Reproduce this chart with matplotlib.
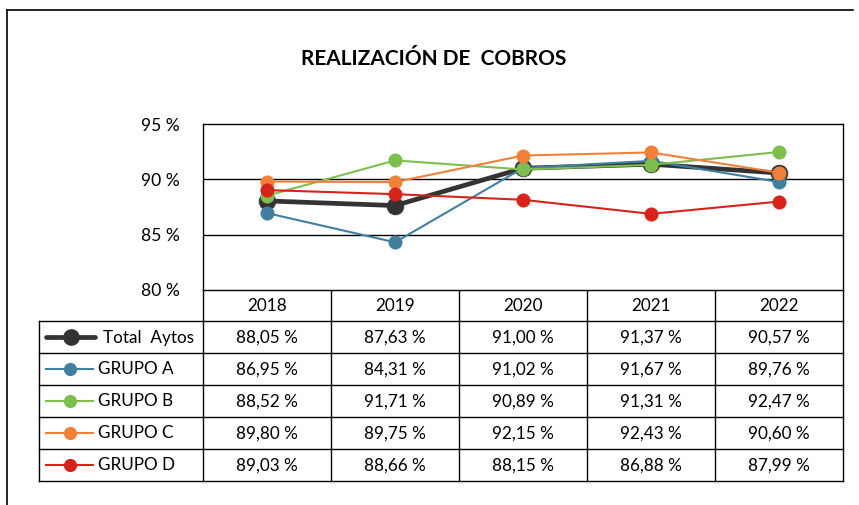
import matplotlib
matplotlib.use("Agg")
import matplotlib.pyplot as plt
from matplotlib.lines import Line2D

plt.rcParams['font.family'] = ['Lato', 'DejaVu Sans']

years = ['2018', '2019', '2020', '2021', '2022']
series_names = ['Total  Aytos', 'GRUPO A', 'GRUPO B', 'GRUPO C', 'GRUPO D']
total_aytos = [88.05, 87.63, 91.00, 91.37, 90.57]
grupo_a = [86.95, 84.31, 91.02, 91.67, 89.76]
grupo_b = [88.52, 91.71, 90.89, 91.31, 92.47]
grupo_c = [89.80, 89.75, 92.15, 92.43, 90.60]
grupo_d = [89.03, 88.66, 88.15, 86.88, 87.99]
y_ticks = [80, 85, 90, 95]

series = [total_aytos, grupo_a, grupo_b, grupo_c, grupo_d]
colors = ['#333333', '#40809E', '#7DBE4E', '#F0803A', '#D8231A']
lws = [3.4, 1.5, 1.5, 1.5, 1.5]
msizes = [12, 9.5, 9.5, 9.5, 9.5]
FS = 12.3

W, H = 859, 505
fig = plt.figure(figsize=(W / 100, H / 100), dpi=100)

# overlay axes in pixel coordinates for frame, title and data table
ov = fig.add_axes([0, 0, 1, 1])
ov.set_xlim(0, W)
ov.set_ylim(H, 0)
ov.axis('off')

# plot area
px0, px1, py0, py1 = 203, 843, 124, 290
ax = fig.add_axes([px0 / W, 1 - py1 / H, (px1 - px0) / W, (py1 - py0) / H])
x = list(range(len(years)))
for s, c, lw, ms in zip(series, colors, lws, msizes):
    ax.plot(x, s, color=c, lw=lw, marker='o', ms=ms,
            markeredgecolor=c, markeredgewidth=0.6, solid_capstyle='round')
ax.set_xlim(-0.5, len(years) - 0.5)
ax.set_ylim(80, 95)
ax.set_yticks(y_ticks)
ax.set_yticklabels([f'{t} %' for t in y_ticks], fontsize=12.6)
ax.set_xticks([])
ax.tick_params(axis='y', length=0, pad=17)
for yv in (85, 90):
    ax.axhline(yv, color='black', lw=1.0, zorder=0)
for sp in ax.spines.values():
    sp.set_color('black')
    sp.set_linewidth(1.0)

# outer frame (left and top edges)
ov.plot([7, 7], [10, H], color='black', lw=1.2)
ov.plot([7, 853], [10, 10], color='black', lw=1.2)

# title
ov.text(434, 59, 'REALIZACIÓN DE  COBROS', ha='center', va='center',
        fontsize=15, fontweight='bold')

# data table
col_w = (px1 - px0) / len(years)
header_bottom = 320.5
row_h = 32
lx0 = 39
n_rows = len(series)
table_bottom = header_bottom + row_h * n_rows
lc = 'black'
tlw = 1.0
# header row: vertical separators and bottom line
for i in range(len(years) + 1):
    xx = px0 + i * col_w
    ov.plot([xx, xx], [py1, table_bottom], color=lc, lw=tlw)
ov.plot([px0, px1], [header_bottom, header_bottom], color=lc, lw=tlw)
for i, yr in enumerate(years):
    ov.text(px0 + (i + 0.5) * col_w, (py1 + header_bottom) / 2 + 1, yr,
            ha='center', va='center', fontsize=FS)
# body rows
ov.plot([lx0, px0], [header_bottom, header_bottom], color=lc, lw=tlw)
ov.plot([lx0, lx0], [header_bottom, table_bottom], color=lc, lw=tlw)
for r in range(n_rows):
    yb = header_bottom + (r + 1) * row_h
    ov.plot([lx0, px1], [yb, yb], color=lc, lw=tlw)
    yc = header_bottom + (r + 0.5) * row_h
    # legend key
    if r == 0:
        ov.add_line(Line2D([46, 95], [yc, yc], color=colors[r], lw=lws[r],
                           solid_capstyle='round'))
        ov.add_line(Line2D([70.5], [yc], color=colors[r], marker='o', ms=msizes[r] - 1))
        tx = 103
    else:
        ov.add_line(Line2D([46, 93], [yc, yc], color=colors[r], lw=lws[r]))
        ov.add_line(Line2D([69.5], [yc], color=colors[r], marker='o', ms=msizes[r] - 1))
        tx = 98
    ov.text(tx, yc + 1, series_names[r], ha='left', va='center', fontsize=FS)
    for i, v in enumerate(series[r]):
        txt = f'{v:.2f}'.replace('.', ',') + ' %'
        ov.text(px0 + (i + 0.5) * col_w, yc + 1, txt, ha='center', va='center',
                fontsize=FS)

fig.savefig('out.png', dpi=100)
